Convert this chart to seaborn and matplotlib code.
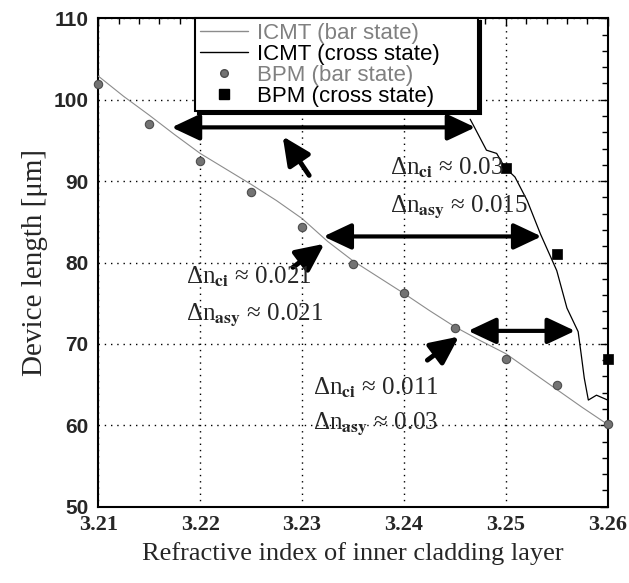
import matplotlib
matplotlib.use("Agg")
import matplotlib.pyplot as plt
from matplotlib.lines import Line2D
from matplotlib.ticker import MultipleLocator
import seaborn as sns
import pandas as pd

# ---- data ----
icmt_bar_x = [3.21, 3.2125, 3.215, 3.2175, 3.22, 3.2225, 3.225, 3.2275, 3.23, 3.2325,
              3.235, 3.2375, 3.24, 3.2425, 3.245, 3.2475, 3.25, 3.2525, 3.255, 3.2575, 3.26]
icmt_bar_y = [102.9, 100.4, 98.1, 95.7, 93.4, 91.5, 89.6, 87.6, 85.4, 82.6,
              80.2, 78.2, 76.2, 74.1, 72.1, 70.4, 68.8, 66.6, 64.4, 62.2, 60.1]

icmt_cross_x = [3.2465, 3.2468, 3.2481, 3.2491, 3.2499, 3.2509, 3.2521, 3.2534, 3.2550,
                3.2560, 3.2571, 3.2574, 3.2577, 3.2581, 3.2589, 3.2600]
icmt_cross_y = [97.6, 96.9, 93.8, 93.4, 91.7, 90.5, 87.6, 83.5, 79.0,
                74.4, 71.5, 68.7, 65.8, 63.1, 63.7, 63.1]

bpm_bar_x = [3.21, 3.215, 3.22, 3.225, 3.23, 3.235, 3.24, 3.245, 3.25, 3.255, 3.26]
bpm_bar_y = [101.9, 97.0, 92.5, 88.6, 84.4, 79.8, 76.2, 72.0, 68.2, 65.0, 60.1]

bpm_cross_x = [3.25, 3.255, 3.26]
bpm_cross_y = [91.6, 81.0, 68.2]

legend_labels = ["ICMT (bar state)", "ICMT (cross state)", "BPM (bar state)", "BPM (cross state)"]

x_ticks = [3.21, 3.22, 3.23, 3.24, 3.25, 3.26]
x_tick_labels = ["3.21", "3.22", "3.23", "3.24", "3.25", "3.26"]
y_ticks = [50, 60, 70, 80, 90, 100, 110]

# double arrows: (x_left, x_right, y)
double_arrows = [(3.2172, 3.2470, 96.6), (3.2321, 3.2535, 83.2), (3.2463, 3.2568, 71.6)]
# single arrows: (tail_x, tail_y, tip_x, tip_y)
single_arrows = [(3.2307, 90.7, 3.2281, 95.5), (3.2291, 79.4, 3.2322, 82.3),
                 (3.2423, 68.0, 3.2454, 70.9)]
# annotations: (x, y_line1, y_line2, dn_ci, dn_asy)
notes = [(3.2386, 90.75, 86.2, "0.03", "0.015"),
         (3.2186, 77.45, 72.95, "0.021", "0.021"),
         (3.2311, 63.72, 59.63, "0.011", "0.03")]

# ---- figure ----
sns.set_style("white")
plt.rcParams["mathtext.fontset"] = "stix"
plt.rcParams["font.family"] = ["Liberation Serif", "DejaVu Serif"]

W, H = 629, 583
fig = plt.figure(figsize=(W / 100, H / 100), dpi=100)
L, R, T, B = 98.3, 607.7, 18.3, 506.7
ax = fig.add_axes([L / W, 1 - B / H, (R - L) / W, (B - T) / H])

df_bar = pd.DataFrame({"x": icmt_bar_x, "y": icmt_bar_y})
df_cross = pd.DataFrame({"x": icmt_cross_x, "y": icmt_cross_y})
df_pb = pd.DataFrame({"x": bpm_bar_x, "y": bpm_bar_y})
df_pc = pd.DataFrame({"x": bpm_cross_x, "y": bpm_cross_y})

sns.lineplot(data=df_bar, x="x", y="y", ax=ax, color="0.55", lw=0.8, sort=False,
             estimator=None, zorder=3)
sns.lineplot(data=df_cross, x="x", y="y", ax=ax, color="black", lw=0.9, sort=False,
             estimator=None, zorder=3)
sns.scatterplot(data=df_pb, x="x", y="y", ax=ax, marker="o", s=36, color="0.45",
                edgecolor="0.3", linewidth=0.8, zorder=4, clip_on=False)
sns.scatterplot(data=df_pc, x="x", y="y", ax=ax, marker="s", s=50, color="black",
                edgecolor="black", linewidth=0.5, zorder=4, clip_on=False)

ax.set_xlim(3.21, 3.26)
ax.set_ylim(50, 110)
ax.set_xticks(x_ticks)
ax.set_xticklabels(x_tick_labels)
ax.set_yticks(y_ticks)
ax.xaxis.set_minor_locator(MultipleLocator(0.002))
ax.yaxis.set_minor_locator(MultipleLocator(2))
ax.tick_params(which="both", direction="in", top=True, right=True, color="black")
ax.tick_params(which="major", length=6, width=1)
ax.tick_params(which="minor", length=4, width=1)
ax.tick_params(axis="x", pad=6)
ax.tick_params(axis="y", pad=7)
for lab in ax.get_xticklabels():
    lab.set_fontfamily("Liberation Serif")
    lab.set_fontweight("bold")
    lab.set_fontsize(16)
for lab in ax.get_yticklabels():
    lab.set_fontfamily("Liberation Sans")
    lab.set_fontweight("bold")
    lab.set_fontsize(15)
for sp in ax.spines.values():
    sp.set_color("black")
    sp.set_linewidth(1.5)
ax.grid(True, which="major", color="black", linestyle=(0, (1, 3.5)), linewidth=1)

ax.set_xlabel("Refractive index of inner cladding layer", fontsize=19,
              family="Liberation Serif", labelpad=5)
ax.set_ylabel("Device length [\u03bcm]", fontsize=21, family="Liberation Serif", labelpad=4)

# arrows
for xl, xr, yy in double_arrows:
    ax.annotate("", xy=(xr, yy), xytext=(xl, yy),
                arrowprops=dict(arrowstyle="<|-|>,head_length=0.85,head_width=0.4",
                                mutation_scale=20, lw=3, color="black",
                                shrinkA=0, shrinkB=0), zorder=6)
for tx, ty, hx, hy in single_arrows:
    ax.annotate("", xy=(hx, hy), xytext=(tx, ty),
                arrowprops=dict(arrowstyle="-|>,head_length=0.85,head_width=0.4",
                                mutation_scale=20, lw=3.5, color="black",
                                shrinkA=0, shrinkB=0), zorder=6)

for x0, y1, y2, ci, asy in notes:
    ax.text(x0, y1, "\u0394n$_{\\mathbf{ci}}$ \u2248 " + ci, fontsize=18,
            family="Liberation Serif", va="baseline", ha="left", zorder=7)
    ax.text(x0, y2, "\u0394n$_{\\mathbf{asy}}$ \u2248 " + asy, fontsize=18,
            family="Liberation Serif", va="baseline", ha="left", zorder=7)

# legend
handles = [Line2D([], [], color="0.55", lw=1),
           Line2D([], [], color="black", lw=1),
           Line2D([], [], ls="none", marker="o", ms=5.5, color="0.45", mec="0.3"),
           Line2D([], [], ls="none", marker="s", ms=7, color="black")]
leg = ax.legend(handles, legend_labels, loc="upper left",
                bbox_to_anchor=(0.19, 0.78, 0.555, 0.22), mode="expand",
                borderaxespad=0, frameon=True, fancybox=False, framealpha=1,
                edgecolor="black", prop={"family": "Liberation Sans", "size": 16},
                labelspacing=0.0, handlelength=2.2, handletextpad=0.4,
                borderpad=0.2,
                shadow={"facecolor": "black", "edgecolor": "black", "alpha": 1})
leg.get_frame().set_linewidth(1.5)
leg.set_zorder(8)
for i, t in enumerate(leg.get_texts()):
    t.set_color("0.5" if i in (0, 2) else "black")

fig.savefig("out.png", dpi=100)
